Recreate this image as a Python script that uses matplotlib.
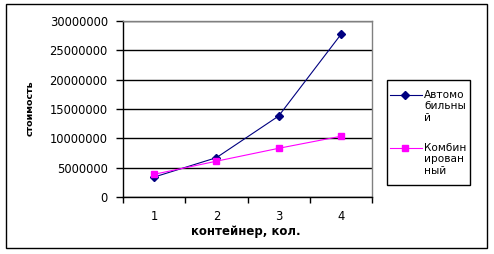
import matplotlib
matplotlib.use("Agg")
import matplotlib.pyplot as plt
from matplotlib.patches import Rectangle
from matplotlib.lines import Line2D

categories = ["1", "2", "3", "4"]
auto = [3400000, 6700000, 13800000, 27700000]
combined = [3870000, 6100000, 8300000, 10350000]
series_names = ["Автомо\nбильны\nй", "Комбин\nирован\nный"]
yticks = [0, 5000000, 10000000, 15000000, 20000000, 25000000, 30000000]

plt.rcParams['font.family'] = ['DejaVu Sans']

W, H = 494, 254
fig = plt.figure(figsize=(W/100, H/100), dpi=100)
fig.patch.set_facecolor('white')

def fx(px):
    return px / W

def fy(py):
    return 1 - py / H

# outer border
fig.add_artist(Rectangle((fx(6), fy(248)), (487-6)/W, (248-4)/H, transform=fig.transFigure,
                         fill=False, edgecolor='black', linewidth=1.0))

ax = fig.add_axes([fx(123), fy(197), (372-123)/W, (197-21)/H])
x = list(range(len(categories)))
colors = ['#000080', '#FF00FF']
markers = ['D', 's']
msizes = [4, 5]
l1, = ax.plot(x, auto, color=colors[0], marker=markers[0], markersize=msizes[0], linewidth=0.8)
l2, = ax.plot(x, combined, color=colors[1], marker=markers[1], markersize=msizes[1], linewidth=0.8)
ax.set_xlim(-0.5, len(categories)-0.5)
ax.set_ylim(0, 30000000)
ax.set_yticks(yticks)
ax.set_yticklabels([str(v) for v in yticks], fontsize=8.3)
ax.set_xticks(x)
ax.set_xticklabels(categories, fontsize=8.3)
ax.set_xticks([i - 0.5 for i in range(len(categories)+1)], minor=True)
ax.tick_params(axis='x', which='major', length=0, pad=9)
ax.tick_params(axis='x', which='minor', length=4, direction='out', width=1)
ax.tick_params(axis='y', length=5, direction='out', width=1, pad=6)
ax.grid(axis='y', color='black', linewidth=1)
ax.set_axisbelow(True)
for s in ['left', 'bottom']:
    ax.spines[s].set_color('black')
    ax.spines[s].set_linewidth(1)
for s in ['top', 'right']:
    ax.spines[s].set_color('#808080')
    ax.spines[s].set_linewidth(1)

fig.text(fx(246), fy(231), "контейнер, кол.", fontsize=8.5, fontweight='bold',
         ha='center', va='center')
fig.text(fx(30), fy(108), "стоимость", fontsize=6.8, fontweight='bold',
         ha='center', va='center', rotation=90)

# legend box
fig.add_artist(Rectangle((fx(387), fy(185)), (470-387)/W, (185-80)/H, transform=fig.transFigure,
                         fill=False, edgecolor='black', linewidth=1.0))
legend_rows = [95, 148]
line_handles = [l1, l2]
for name, row, h in zip(series_names, legend_rows, line_handles):
    fig.add_artist(Line2D([fx(390), fx(422)], [fy(row), fy(row)], transform=fig.transFigure,
                          color=h.get_color(), linewidth=0.8))
    fig.add_artist(Line2D([fx(405)], [fy(row)], transform=fig.transFigure,
                          color=h.get_color(), marker=h.get_marker(), markersize=h.get_markersize(),
                          linestyle='none'))
    for i, part in enumerate(name.split("\n")):
        fig.text(fx(424), fy(row + i * 11.3), part, fontsize=7.6, ha='left', va='center')

fig.savefig("out.png", dpi=100, facecolor='white')
